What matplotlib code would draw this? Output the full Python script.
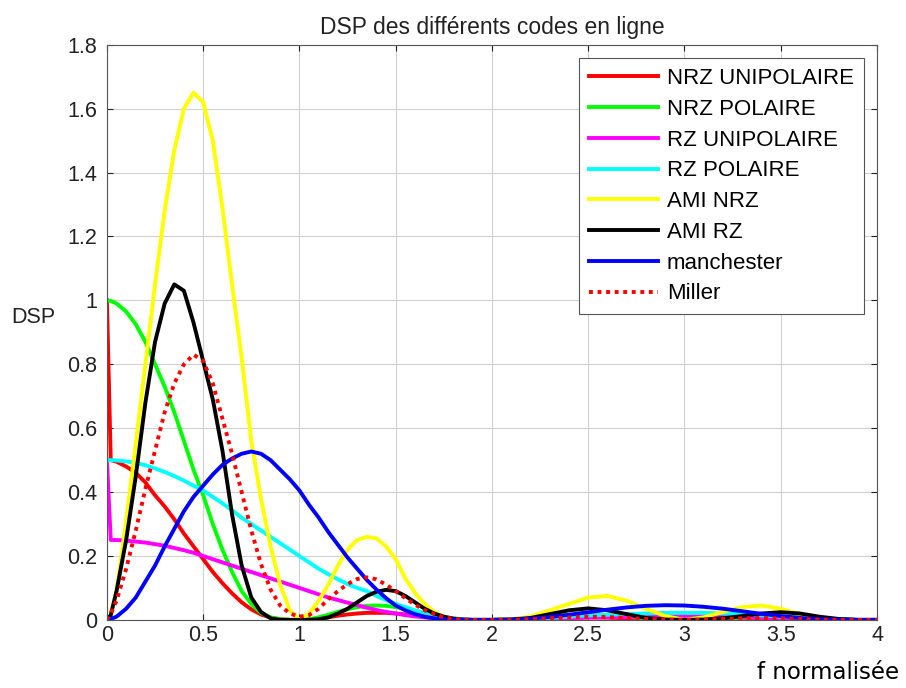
import matplotlib
matplotlib.use("Agg")
import matplotlib.pyplot as plt

plt.rcParams['font.family'] = ['Liberation Sans', 'DejaVu Sans']

# frequency grid (normalised)
f = [0, 0.02, 0.05, 0.1, 0.15, 0.2, 0.25, 0.3, 0.35, 0.4, 0.45, 0.5, 0.55, 0.6, 0.65, 0.7,
     0.75, 0.8, 0.85, 0.9, 0.95, 1.0, 1.05, 1.1, 1.15, 1.2, 1.25, 1.3, 1.35, 1.4, 1.45, 1.5,
     1.55, 1.6, 1.65, 1.7, 1.75, 1.8, 1.85, 1.9, 1.95, 2.0, 2.1, 2.2, 2.3, 2.4, 2.5, 2.6,
     2.7, 2.8, 2.9, 3.0, 3.1, 3.2, 3.3, 3.4, 3.5, 3.6, 3.7, 3.8, 3.9, 4.0]

nrz_unipolaire = [1.0, 0.50, 0.495, 0.48, 0.46, 0.43, 0.39, 0.355, 0.315, 0.27, 0.23, 0.19, 0.15, 0.115, 0.083, 0.055,
                  0.033, 0.017, 0.007, 0.002, 0.0, 0.0, 0.001, 0.004, 0.008, 0.013, 0.017, 0.02, 0.022, 0.022, 0.022, 0.02,
                  0.017, 0.013, 0.009, 0.006, 0.003, 0.001, 0.0, 0.0, 0.0, 0.0, 0.001, 0.003, 0.005, 0.007, 0.008, 0.007,
                  0.005, 0.003, 0.001, 0.0, 0.001, 0.002, 0.003, 0.004, 0.004, 0.003, 0.002, 0.001, 0.0, 0.0]

nrz_polaire = [1.0, 0.998, 0.99, 0.965, 0.925, 0.87, 0.80, 0.73, 0.65, 0.56, 0.47, 0.39, 0.30, 0.22, 0.15, 0.09,
               0.05, 0.022, 0.008, 0.002, 0.0, 0.0, 0.002, 0.008, 0.016, 0.025, 0.033, 0.040, 0.044, 0.045, 0.044, 0.040,
               0.034, 0.027, 0.019, 0.012, 0.007, 0.003, 0.001, 0.0, 0.0, 0.0, 0.002, 0.007, 0.012, 0.015, 0.016, 0.014,
               0.010, 0.005, 0.001, 0.0, 0.001, 0.004, 0.007, 0.008, 0.008, 0.007, 0.004, 0.002, 0.0, 0.0]

rz_unipolaire = [0.5, 0.25, 0.25, 0.248, 0.245, 0.242, 0.237, 0.232, 0.225, 0.218, 0.21, 0.20, 0.19, 0.18, 0.17, 0.16,
                 0.15, 0.14, 0.13, 0.12, 0.11, 0.10, 0.09, 0.08, 0.07, 0.062, 0.054, 0.046, 0.038, 0.031, 0.025, 0.02,
                 0.015, 0.011, 0.008, 0.005, 0.003, 0.002, 0.001, 0.0, 0.0, 0.0, 0.0005, 0.002, 0.003, 0.005, 0.007, 0.008,
                 0.009, 0.01, 0.011, 0.011, 0.011, 0.01, 0.009, 0.007, 0.005, 0.004, 0.002, 0.001, 0.0, 0.0]

rz_polaire = [0.5, 0.5, 0.499, 0.496, 0.491, 0.484, 0.474, 0.463, 0.45, 0.436, 0.42, 0.405, 0.385, 0.365, 0.343, 0.32,
              0.30, 0.28, 0.26, 0.24, 0.22, 0.20, 0.18, 0.16, 0.143, 0.127, 0.112, 0.10, 0.09, 0.075, 0.062, 0.05,
              0.04, 0.03, 0.022, 0.015, 0.009, 0.005, 0.002, 0.0, 0.0, 0.0, 0.001, 0.004, 0.006, 0.01, 0.014, 0.016,
              0.018, 0.02, 0.022, 0.022, 0.022, 0.02, 0.018, 0.014, 0.01, 0.008, 0.004, 0.002, 0.0, 0.0]

ami_nrz = [0.0, 0.02, 0.09, 0.31, 0.55, 0.80, 1.05, 1.28, 1.47, 1.60, 1.65, 1.62, 1.50, 1.29, 1.05, 0.82,
           0.56, 0.38, 0.23, 0.11, 0.03, 0.0, 0.02, 0.06, 0.11, 0.17, 0.22, 0.25, 0.26, 0.255, 0.23, 0.19,
           0.13, 0.085, 0.05, 0.025, 0.01, 0.003, 0.0, 0.0, 0.0, 0.0, 0.002, 0.01, 0.03, 0.05, 0.07, 0.075,
           0.06, 0.035, 0.012, 0.0, 0.008, 0.025, 0.04, 0.045, 0.035, 0.018, 0.005, 0.0, 0.0, 0.0]

ami_rz = [0.0, 0.015, 0.09, 0.25, 0.45, 0.68, 0.87, 0.99, 1.05, 1.03, 0.93, 0.81, 0.69, 0.53, 0.33, 0.17,
          0.07, 0.025, 0.005, 0.0, 0.0, 0.0, 0.0, 0.002, 0.008, 0.02, 0.035, 0.055, 0.075, 0.088, 0.094, 0.09,
          0.075, 0.055, 0.035, 0.02, 0.01, 0.004, 0.001, 0.0, 0.0, 0.0, 0.001, 0.006, 0.018, 0.03, 0.036, 0.03,
          0.018, 0.006, 0.001, 0.0, 0.001, 0.005, 0.012, 0.02, 0.024, 0.02, 0.01, 0.003, 0.0, 0.0]

manchester = [0.0, 0.003, 0.01, 0.035, 0.07, 0.12, 0.17, 0.23, 0.285, 0.34, 0.385, 0.42, 0.455, 0.485, 0.505, 0.52,
              0.527, 0.52, 0.50, 0.47, 0.44, 0.405, 0.36, 0.32, 0.275, 0.235, 0.195, 0.16, 0.125, 0.095, 0.068, 0.045,
              0.03, 0.018, 0.01, 0.005, 0.002, 0.001, 0.0, 0.0, 0.0, 0.0, 0.001, 0.004, 0.009, 0.016, 0.024, 0.032,
              0.039, 0.044, 0.046, 0.045, 0.041, 0.035, 0.027, 0.019, 0.012, 0.006, 0.002, 0.001, 0.0, 0.0]

miller = [0.0, 0.02, 0.06, 0.16, 0.28, 0.41, 0.53, 0.65, 0.74, 0.80, 0.83, 0.81, 0.74, 0.63, 0.52, 0.40,
          0.28, 0.175, 0.095, 0.045, 0.02, 0.01, 0.015, 0.035, 0.065, 0.09, 0.112, 0.128, 0.133, 0.127, 0.11, 0.09,
          0.068, 0.048, 0.03, 0.018, 0.008, 0.003, 0.001, 0.0, 0.0, 0.0, 0.0, 0.002, 0.005, 0.008, 0.01, 0.009,
          0.006, 0.003, 0.001, 0.0, 0.001, 0.003, 0.005, 0.006, 0.005, 0.003, 0.001, 0.0, 0.0, 0.0]

series = [
    (nrz_unipolaire, 'NRZ UNIPOLAIRE', (1, 0, 0), '-'),
    (nrz_polaire, 'NRZ POLAIRE', (0, 1, 0), '-'),
    (rz_unipolaire, 'RZ UNIPOLAIRE', (1, 0, 1), '-'),
    (rz_polaire, 'RZ POLAIRE', (0, 1, 1), '-'),
    (ami_nrz, 'AMI NRZ', (1, 1, 0), '-'),
    (ami_rz, 'AMI RZ', (0, 0, 0), '-'),
    (manchester, 'manchester', (0, 0, 1), '-'),
    (miller, 'Miller', (1, 0, 0), (0, (1, 1.2))),
]

fig = plt.figure(figsize=(9.06, 6.88), dpi=100)
ax = fig.add_axes([0.118, 0.099, 0.850, 0.836])

for vals, name, col, ls in series:
    ax.plot(f, vals, color=col, linestyle=ls, linewidth=2.8, label=name)

ax.set_xlim(0, 4)
ax.set_ylim(0, 1.8)
ax.set_xticks([0, 0.5, 1, 1.5, 2, 2.5, 3, 3.5, 4])
ax.set_xticklabels(['0', '0.5', '1', '1.5', '2', '2.5', '3', '3.5', '4'])
ax.set_yticks([0, 0.2, 0.4, 0.6, 0.8, 1.0, 1.2, 1.4, 1.6, 1.8])
ax.set_yticklabels(['0', '0.2', '0.4', '0.6', '0.8', '1', '1.2', '1.4', '1.6', '1.8'])
ax.tick_params(direction='in', top=True, right=True, length=4, labelsize=15.5, colors='#222222')
ax.tick_params(axis='y', pad=7)
ax.grid(True, color='#d0d0d0', linewidth=0.8)
for sp in ax.spines.values():
    sp.set_color('#555555')
    sp.set_linewidth(0.8)

ax.set_title('DSP des différents codes en ligne', fontsize=16.5, pad=8, color='#222222')
ax.set_ylabel('DSP', rotation=0, fontsize=15.5, ha='center', va='center', color='#222222')
ax.yaxis.set_label_coords(-0.096, 0.525)
ax.set_xlabel('f normalisée', fontsize=16.5, family='DejaVu Sans', ha='center', va='center')
ax.xaxis.set_label_coords(0.936, -0.092)

leg = ax.legend(loc='upper right', fontsize=16, handlelength=3.1, labelspacing=0.44,
                fancybox=False, edgecolor='#555555', framealpha=1, borderaxespad=0.6,
                handletextpad=0.4, borderpad=0.45)
leg.get_frame().set_linewidth(0.8)

fig.savefig('out.png', dpi=100)
